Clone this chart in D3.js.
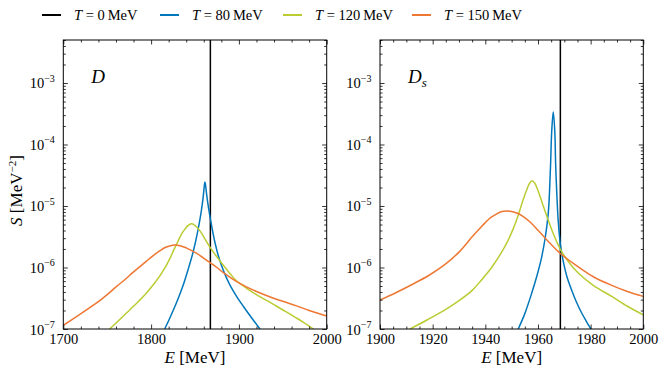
<!DOCTYPE html>
<html>
<head>
<meta charset="utf-8">
<script src="https://cdn.jsdelivr.net/npm/d3@7"></script>
<style>
  body { margin: 0; background: #fff; }
  svg { display: block; }
  text { font-family: "Liberation Serif", "DejaVu Serif", serif; fill: #000; }
</style>
</head>
<body>
<div id="chart"></div>
<script>
// values: E in MeV, S given as log10(S / MeV^-2)
const temps = [0, 80, 120, 150];
const colors = ["#000000", "#0077bb", "#bbcc33", "#ee7733"];

const massD = 1867.5;
const massDs = 1968.5;

// D meson
const dT80 = [[1815.5,-7.0],[1822,-6.80],[1829,-6.57],[1836,-6.31],[1842,-6.04],[1848,-5.74],[1853,-5.42],
  [1857,-5.10],[1859.5,-4.83],[1860.7,-4.66],[1861.3,-4.61],[1862,-4.66],[1863.5,-4.84],[1865.5,-5.04],
  [1868,-5.25],[1870.5,-5.44],[1873,-5.61],[1876,-5.78],[1880,-5.96],[1885,-6.14],[1890,-6.29],
  [1897,-6.46],[1905,-6.63],[1914,-6.81],[1924,-7.0]];
const dT120 = [[1752.8,-7.0],[1764,-6.85],[1775.6,-6.69],[1785,-6.56],[1794.5,-6.42],[1802,-6.29],
  [1809.8,-6.14],[1816,-6.00],[1821.2,-5.86],[1826,-5.71],[1830.7,-5.57],[1834.5,-5.46],[1838.3,-5.38],
  [1842,-5.32],[1845.8,-5.29],[1849.5,-5.31],[1855.5,-5.40],[1861,-5.53],[1867,-5.67],[1874,-5.81],
  [1882,-5.96],[1890,-6.10],[1897.5,-6.22],[1910,-6.35],[1920,-6.44],[1932,-6.54],[1943,-6.63],
  [1953,-6.715],[1963,-6.80],[1974,-6.895],[1985,-7.0]];
const dT150 = [[1700,-6.94],[1718,-6.77],[1737.6,-6.58],[1750,-6.44],[1760.4,-6.31],[1770,-6.20],
  [1779.4,-6.08],[1787,-5.99],[1794.5,-5.90],[1802,-5.81],[1809.8,-5.73],[1816,-5.675],[1821,-5.65],
  [1827,-5.635],[1833,-5.645],[1839,-5.675],[1844,-5.71],[1852,-5.77],[1859,-5.84],[1867,-5.92],
  [1875,-6.00],[1882,-6.08],[1890,-6.16],[1897.5,-6.23],[1908,-6.31],[1920,-6.39],[1935,-6.475],
  [1950,-6.55],[1965,-6.62],[1980,-6.70],[2000,-6.79]];

// Ds meson
const dsT80 = [[1952.5,-7.0],[1955,-6.75],[1957.6,-6.42],[1959.5,-6.15],[1961.4,-5.83],[1962.8,-5.50],
  [1963.9,-5.12],[1964.4,-4.75],[1964.8,-4.31],[1965.2,-3.80],[1965.8,-3.47],[1966.4,-3.80],
  [1966.7,-4.31],[1967.2,-4.85],[1967.7,-5.25],[1968.5,-5.62],[1969.6,-5.90],[1971,-6.15],
  [1972.8,-6.37],[1974.6,-6.56],[1976.6,-6.74],[1978.3,-6.87],[1980.1,-7.0]];
const dsT120 = [[1911.4,-7.0],[1918,-6.85],[1924.7,-6.69],[1930,-6.54],[1934.8,-6.38],[1938,-6.23],
  [1942.4,-6.00],[1945.5,-5.80],[1948.5,-5.57],[1950.5,-5.38],[1952.5,-5.15],[1954.2,-4.92],
  [1955.7,-4.74],[1956.8,-4.63],[1957.8,-4.59],[1958.8,-4.63],[1960.1,-4.76],[1962,-5.00],
  [1963.9,-5.23],[1966.3,-5.50],[1968.7,-5.72],[1972,-5.93],[1975.3,-6.09],[1981,-6.29],
  [1988,-6.47],[1994,-6.63],[2000,-6.77]];
const dsT150 = [[1900,-6.53],[1906,-6.41],[1912,-6.28],[1918.5,-6.13],[1924.7,-5.95],[1930,-5.75],
  [1935,-5.50],[1938,-5.36],[1940,-5.27],[1942,-5.19],[1944,-5.135],[1946,-5.095],[1948,-5.08],
  [1950,-5.09],[1952,-5.115],[1954,-5.16],[1957,-5.26],[1960.1,-5.40],[1964,-5.58],[1968.7,-5.78],
  [1975.3,-5.99],[1981,-6.15],[1988,-6.29],[1994,-6.39],[2000,-6.47]];

const width = 665;
const height = 376;
const yTop = 40, yBottom = 329;

const svg = d3.select("#chart")
  .append("svg")
  .attr("width", width)
  .attr("height", height);

const y = d3.scaleLog().domain([1e-7, 5e-3]).range([yBottom, yTop]);

const yMajor = [1e-7, 1e-6, 1e-5, 1e-4, 1e-3];
const yMinor = [];
d3.range(-7, -2).forEach(e => {
  d3.range(2, 10).forEach(k => {
    const v = k * Math.pow(10, e);
    if (v <= 5e-3) yMinor.push(v);
  });
});

const panels = [
  { name: "D", sub: "", left: 63.3, right: 326.7, domain: [1700, 2000], major: 100, minor: 20,
    mass: massD, series: [dT80, dT120, dT150] },
  { name: "D", sub: "s", left: 380, right: 643.3, domain: [1900, 2000], major: 20, minor: 5,
    mass: massDs, series: [dsT80, dsT120, dsT150] }
];

function cleanAxis(g) {
  g.attr("font-family", null).attr("font-size", null);
  g.select(".domain").remove();
  g.selectAll(".tick line").attr("stroke", "#000").attr("stroke-width", 0.8);
}

panels.forEach((p, pi) => {
  const x = d3.scaleLinear().domain(p.domain).range([p.left, p.right]);
  const g = svg.append("g");

  const clipId = "clip" + pi;
  g.append("clipPath").attr("id", clipId)
    .append("rect")
    .attr("x", p.left).attr("y", yTop)
    .attr("width", p.right - p.left).attr("height", yBottom - yTop);

  const plot = g.append("g").attr("clip-path", `url(#${clipId})`);

  const line = d3.line()
    .x(d => x(d[0]))
    .y(d => y(Math.pow(10, d[1])))
    .curve(d3.curveCatmullRom.alpha(0.5));

  // T = 0: delta peak at the vacuum mass
  plot.append("line")
    .attr("x1", x(p.mass)).attr("x2", x(p.mass))
    .attr("y1", y.range()[0]).attr("y2", y.range()[1])
    .attr("stroke", colors[0])
    .attr("stroke-width", 1.5);

  p.series.forEach((s, i) => {
    plot.append("path")
      .datum(s)
      .attr("d", line)
      .attr("fill", "none")
      .attr("stroke", colors[i + 1])
      .attr("stroke-width", 1.5)
      .attr("stroke-linejoin", "round");
  });

  // ticks
  const xMajor = d3.range(p.domain[0], p.domain[1] + 1, p.major);
  const xMinor = d3.range(p.domain[0], p.domain[1] + 1, p.minor).filter(v => (v - p.domain[0]) % p.major !== 0);

  g.append("g").attr("transform", `translate(0,${yBottom})`)
    .call(d3.axisBottom(x).tickValues(xMajor).tickSizeInner(-4.5).tickSizeOuter(0).tickPadding(4.5)
      .tickFormat(d3.format("d")))
    .call(cleanAxis)
    .selectAll("text").attr("font-size", 14.5);
  g.append("g").attr("transform", `translate(0,${yBottom})`)
    .call(d3.axisBottom(x).tickValues(xMinor).tickSizeInner(-2.5).tickSizeOuter(0).tickFormat(""))
    .call(cleanAxis);
  g.append("g").attr("transform", `translate(0,${yTop})`)
    .call(d3.axisTop(x).tickValues(xMajor).tickSizeInner(-4.5).tickSizeOuter(0).tickFormat(""))
    .call(cleanAxis);
  g.append("g").attr("transform", `translate(0,${yTop})`)
    .call(d3.axisTop(x).tickValues(xMinor).tickSizeInner(-2.5).tickSizeOuter(0).tickFormat(""))
    .call(cleanAxis);

  const yl = g.append("g").attr("transform", `translate(${p.left},0)`)
    .call(d3.axisLeft(y).tickValues(yMajor).tickSizeInner(-4.5).tickSizeOuter(0).tickFormat(""))
    .call(cleanAxis);
  g.append("g").attr("transform", `translate(${p.left},0)`)
    .call(d3.axisLeft(y).tickValues(yMinor).tickSizeInner(-2.5).tickSizeOuter(0).tickFormat(""))
    .call(cleanAxis);
  g.append("g").attr("transform", `translate(${p.right},0)`)
    .call(d3.axisRight(y).tickValues(yMajor).tickSizeInner(-4.5).tickSizeOuter(0).tickFormat(""))
    .call(cleanAxis);
  g.append("g").attr("transform", `translate(${p.right},0)`)
    .call(d3.axisRight(y).tickValues(yMinor).tickSizeInner(-2.5).tickSizeOuter(0).tickFormat(""))
    .call(cleanAxis);

  // y tick labels as 10^n
  yl.selectAll(".tick").each(function(d) {
    const t = d3.select(this).select("text")
      .attr("x", -8.5).attr("dy", null).attr("y", 5)
      .attr("text-anchor", "end").attr("font-size", 14.5)
      .text("10");
    t.append("tspan").attr("font-size", 10).attr("dy", -6.5)
      .text("\u2212" + Math.round(-Math.log10(d)));
  });

  // frame
  g.append("rect")
    .attr("x", p.left).attr("y", yTop)
    .attr("width", p.right - p.left).attr("height", yBottom - yTop)
    .attr("fill", "none").attr("stroke", "#000").attr("stroke-width", 1);

  // panel label
  const lab = g.append("text")
    .attr("x", p.left + 28).attr("y", 83)
    .attr("font-size", 19).attr("font-style", "italic")
    .text(p.name);
  if (p.sub) {
    lab.append("tspan").attr("font-size", 13).attr("dy", 4).text(p.sub);
  }

  // x axis label
  const xl = g.append("text")
    .attr("x", (p.left + p.right) / 2).attr("y", 363)
    .attr("text-anchor", "middle").attr("font-size", 17);
  xl.append("tspan").attr("font-style", "italic").text("E");
  xl.append("tspan").text(" [MeV]");
});

// y axis label
const ylab = svg.append("text")
  .attr("transform", `translate(22,${(yTop + yBottom) / 2 + 6}) rotate(-90)`)
  .attr("text-anchor", "middle").attr("font-size", 17);
ylab.append("tspan").attr("font-style", "italic").text("S");
ylab.append("tspan").text(" [MeV");
ylab.append("tspan").attr("font-size", 11).attr("dy", -6).text("\u22122");
ylab.append("tspan").attr("dy", 6).text("]");

// legend
const legendX = [42, 160, 283, 412];
const legend = svg.append("g");
temps.forEach((t, i) => {
  const lg = legend.append("g").attr("transform", `translate(${legendX[i]},0)`);
  lg.append("line")
    .attr("x1", 0).attr("x2", 19)
    .attr("y1", 15).attr("y2", 15)
    .attr("stroke", colors[i]).attr("stroke-width", 2);
  const tx = lg.append("text").attr("x", 32).attr("y", 20).attr("font-size", 14.5);
  tx.append("tspan").attr("font-style", "italic").text("T");
  tx.append("tspan").text(" = " + t + "\u2009MeV");
});
</script>
</body>
</html>
